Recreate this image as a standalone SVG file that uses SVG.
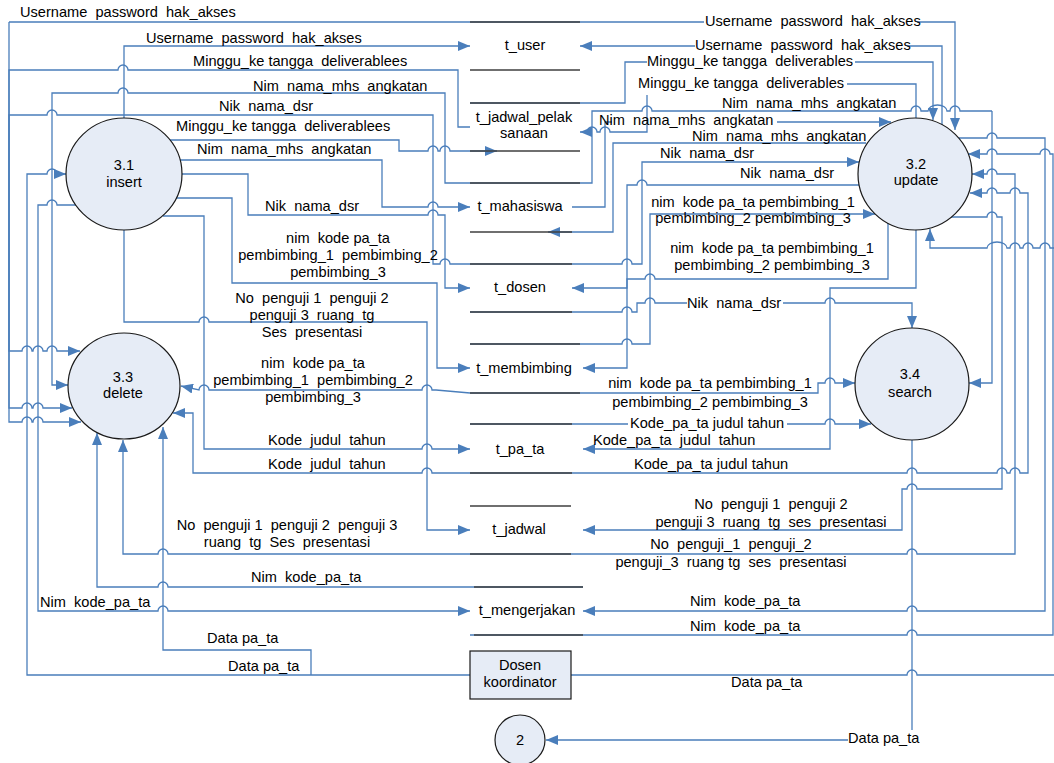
<svg xmlns="http://www.w3.org/2000/svg" width="1054" height="763" viewBox="0 0 1054 763">
<style>
.c{fill:none;stroke:#4A7EBB;stroke-width:1.3}
.s{stroke:#404040;stroke-width:1.3}
.p{fill:#E6ECF6;stroke:#1a1a1a;stroke-width:1.2}
text{font-family:"Liberation Sans",Arial,sans-serif;font-size:14.6px;fill:#000;white-space:pre}
.m{text-anchor:middle}
</style>
<defs>
<marker id="ar" viewBox="0 0 12 10" refX="12" refY="5" markerWidth="12" markerHeight="10" orient="auto" markerUnits="userSpaceOnUse"><path d="M0,0 L12,5 L0,10 z" fill="#4A7EBB"/></marker>
</defs>
<rect width="1054" height="763" fill="#fff"/>
<g id="connectors" class="c" marker-end="url(#ar)">
<path d="M9,22 H704 M917,22 H955 V130"/>
<path d="M9,22 V351 H22 a5,5 0 0 1 10,0 H33 a5,5 0 0 1 10,0 H47 a5,5 0 0 1 10,0 H80"/>
<path d="M470,127 H458 V70 H128 a5,5 0 0 0 -10,0 H9 V408 H22 a5,5 0 0 1 10,0 H33 a5,5 0 0 1 10,0 H72"/>
<path d="M470,264 H450 a5,5 0 0 0 -10,0 H433 V115 H57 a5,5 0 0 0 -10,0 H9 V422 H22 a5,5 0 0 1 10,0 H33 a5,5 0 0 1 10,0 H81"/>
<path d="M992,111 H960 a5,5 0 0 0 -10,0 H947 a9.5,6 0 0 0 -19,0 H921 a5,5 0 0 0 -10,0 H652 a5,5 0 0 0 -10,0 H592 V183 H445 V93 H128 a5,5 0 0 0 -10,0 H52 V385 H68"/>
<path d="M992,111 V383 H969"/>
<path d="M124,118 V46 H470"/>
<path d="M170,140 H399 V151 H428 a5,5 0 0 1 10,0 H440 a5,5 0 0 1 10,0 H497"/>
<path d="M179,160 H382 V207 H428 a5,5 0 0 1 10,0 H470"/>
<path d="M181,174 H248 V215 H428 a5,5 0 0 1 10,0 H445 V288 H470"/>
<path d="M176,198 H232 V283 H437 V368 H470"/>
<path d="M163,216 H204 V449 H422 a5,5 0 0 1 10,0 H470"/>
<path d="M124,230 V322 H199 a5,5 0 0 1 10,0 H427 V530 H470"/>
<path d="M76,205 H57 a5,5 0 0 0 -10,0 H38 V611 H158 a5,5 0 0 1 10,0 H470"/>
<path d="M470,675 H27 V174 H47 a5,5 0 0 1 10,0 H66"/>
<path d="M311,675 V650 H163 V427"/>
<path d="M470,393 L436,390 H432 a5,5 0 0 0 -10,0 H209 a5,5 0 0 0 -10,0 L181,386"/>
<path d="M470,473 H432 a5,5 0 0 0 -10,0 H193 V413 H173"/>
<path d="M470,554 H168 a5,5 0 0 0 -10,0 H123 V440"/>
<path d="M583,587 H168 a5,5 0 0 0 -10,0 H97 V433"/>
<path d="M942,127 V46 H907 M695,46 H580"/>
<path d="M470,103 H625 V62 H647 M855,62 H933 V120"/>
<path d="M916,120 V84 H847 M647,95 V132 H610 a5,5 0 0 0 -10,0 H597 a5,5 0 0 0 -10,0 H580"/>
<path d="M572,207 H605 V122 H612 M777,122 H891"/>
<path d="M866,143 H613 V232 H548"/>
<path d="M470,264 H622 a5,5 0 0 1 10,0 H642 V162 H859"/>
<path d="M859,185 H647 a5,5 0 0 0 -10,0 H627 V288 H572"/>
<path d="M470,344 H622 a5,5 0 0 1 10,0 H650 V214 H875"/>
<path d="M888,223 V279 H655 a5,5 0 0 0 -10,0 H627 V368 H583"/>
<path d="M916,230 V288 H830 V449 H583"/>
<path d="M470,312 H622 a5,5 0 0 1 10,0 H637 V303 H645 a5,5 0 0 1 10,0 H687 M783,303 H825 a5,5 0 0 1 10,0 H912 V328"/>
<path d="M470,393 H818 V383 H825 a5,5 0 0 1 10,0 H855"/>
<path d="M470,424 H628 M787,424 H825 a5,5 0 0 1 10,0 H871"/>
<path d="M470,473 H907 a5,5 0 0 1 10,0 H997 a5,5 0 0 1 10,0 H1010 a5,5 0 0 1 10,0 H1028 V193 H1020 a5,5 0 0 0 -10,0 H997 a5,5 0 0 0 -10,0 H970"/>
<path d="M951,217 H987 a5,5 0 0 1 10,0 H1002 V489 H917 a5,5 0 0 0 -10,0 H902 V530 H583"/>
<path d="M470,554 H907 a5,5 0 0 1 10,0 H1015 V174 H997 a5,5 0 0 0 -10,0 H972"/>
<path d="M959,138 H987 a5,5 0 0 1 10,0 H1045 V611 H917 a5,5 0 0 0 -10,0 H583"/>
<path d="M470,635 H907 a5,5 0 0 1 10,0 H1053 V154 H1050 a5,5 0 0 0 -10,0 H997 a5,5 0 0 0 -10,0 H968"/>
<path d="M1054,248 H1050 a5,5 0 0 0 -10,0 H1033 a5,5 0 0 0 -10,0 H1020 a5,5 0 0 0 -10,0 H1007 a10,6 0 0 0 -20,0 H930 V229"/>
<path d="M571,675 H907 a5,5 0 0 1 10,0 H1054" marker-end="none"/>
<path d="M912,440 V730 M848,740 H546"/>
</g>
<g id="flow-labels">
<text x="20" y="17">Username  password  hak_akses</text>
<text x="146" y="43">Username  password  hak_akses</text>
<text x="193" y="66">Minggu_ke tangga  deliverablees</text>
<text x="253" y="91">Nim  nama_mhs  angkatan</text>
<text x="219" y="111">Nik  nama_dsr</text>
<text x="176" y="131">Minggu_ke tangga  deliverablees</text>
<text x="197" y="154">Nim  nama_mhs  angkatan</text>
<text x="265" y="211">Nik  nama_dsr</text>
<text class="m" x="338" y="243">nim  kode pa_ta<tspan x="338" y="260">pembimbing_1  pembimbing_2</tspan><tspan x="338" y="277">pembimbing_3</tspan></text>
<text class="m" x="312" y="303">No  penguji 1  penguji 2<tspan x="312" y="320">penguji 3  ruang  tg</tspan><tspan x="312" y="337">Ses  presentasi</tspan></text>
<text class="m" x="313" y="368">nim  kode pa_ta<tspan x="313" y="385">pembimbing_1  pembimbing_2</tspan><tspan x="313" y="402">pembimbing_3</tspan></text>
<text x="268" y="445">Kode  judul  tahun</text>
<text x="268" y="469">Kode  judul  tahun</text>
<text class="m" x="287" y="530">No  penguji 1  penguji 2  penguji 3<tspan x="287" y="547">ruang  tg  Ses  presentasi</tspan></text>
<text x="251" y="582">Nim  kode_pa_ta</text>
<text x="40" y="607">Nim  kode_pa_ta</text>
<text x="207" y="643">Data pa_ta</text>
<text x="228" y="671">Data pa_ta</text>
<text x="705" y="26">Username  password  hak_akses</text>
<text x="695" y="50">Username  password  hak_akses</text>
<text x="647" y="66">Minggu_ke tangga  deliverables</text>
<text x="638" y="88">Minggu_ke tangga  deliverables</text>
<text x="722" y="108">Nim  nama_mhs  angkatan</text>
<text x="599" y="125">Nim  nama_mhs  angkatan</text>
<text x="692" y="141">Nim  nama_mhs  angkatan</text>
<text x="660" y="158">Nik  nama_dsr</text>
<text x="740" y="178">Nik  nama_dsr</text>
<text class="m" x="753" y="207">nim  kode pa_ta pembimbing_1<tspan x="753" y="223">pembimbing_2 pembimbing_3</tspan></text>
<text class="m" x="772" y="253">nim  kode pa_ta pembimbing_1<tspan x="772" y="270">pembimbing_2 pembimbing_3</tspan></text>
<text x="687" y="308">Nik  nama_dsr</text>
<text class="m" x="710" y="388">nim  kode pa_ta pembimbing_1<tspan x="710" y="407">pembimbing_2 pembimbing_3</tspan></text>
<text x="630" y="428">Kode_pa_ta judul tahun</text>
<text x="593" y="445">Kode_pa_ta  judul  tahun</text>
<text x="634" y="469">Kode_pa_ta judul tahun</text>
<text class="m" x="771" y="509">No  penguji 1  penguji 2<tspan x="771" y="527">penguji 3  ruang  tg  ses  presentasi</tspan></text>
<text class="m" x="731" y="549">No  penguji_1  penguji_2<tspan x="731" y="567">penguji_3  ruang tg  ses  presentasi</tspan></text>
<text x="690" y="606">Nim  kode_pa_ta</text>
<text x="690" y="631">Nim  kode_pa_ta</text>
<text x="731" y="687">Data pa_ta</text>
<text x="848" y="743">Data pa_ta</text>
</g>
<g id="t_user"><path class="s" d="M470,22 H580 M470,70 H580"/><text class="m" x="525" y="50">t_user</text></g>
<g id="t_jadwal_pelaksanaan"><path class="s" d="M470,103 H580 M470,151 H580"/><text class="m" x="524" y="122">t_jadwal_pelak<tspan x="524" y="138">sanaan</tspan></text></g>
<g id="t_mahasiswa"><path class="s" d="M470,183 H580 M470,232 H572"/><text class="m" x="520" y="211">t_mahasiswa</text></g>
<g id="t_dosen"><path class="s" d="M470,264 H572 M470,312 H572"/><text class="m" x="520" y="292">t_dosen</text></g>
<g id="t_membimbing"><path class="s" d="M470,344 H580 M470,393 H580"/><text class="m" x="524" y="373">t_membimbing</text></g>
<g id="t_pa_ta"><path class="s" d="M470,424 H572 M470,473 H572"/><text class="m" x="520" y="454">t_pa_ta</text></g>
<g id="t_jadwal"><path class="s" d="M470,506 H571 M470,554 H571"/><text class="m" x="519" y="534">t_jadwal</text></g>
<g id="t_mengerjakan"><path class="s" d="M474,587 H583 M474,635 H583"/><text class="m" x="527" y="615">t_mengerjakan</text></g>
<g id="p31"><ellipse class="p" cx="124" cy="174" rx="58" ry="56"/><text class="m" x="124" y="170">3.1</text><text class="m" x="124" y="187">insert</text></g>
<g id="p32"><ellipse class="p" cx="915" cy="174" rx="57" ry="56"/><text class="m" x="916" y="169">3.2</text><text class="m" x="916" y="185">update</text></g>
<g id="p33"><ellipse class="p" cx="124" cy="386" rx="56" ry="53"/><text class="m" x="123" y="382">3.3</text><text class="m" x="123" y="398">delete</text></g>
<g id="p34"><ellipse class="p" cx="912" cy="384" rx="57" ry="56"/><text class="m" x="910" y="379">3.4</text><text class="m" x="910" y="397">search</text></g>
<g id="p2"><circle class="p" cx="520" cy="740" r="25"/><text class="m" x="520" y="745">2</text></g>
<g id="dosen_koordinator"><rect x="470" y="651" width="101" height="48" fill="#E6ECF6" stroke="#1a1a1a" stroke-width="1.2"/><text class="m" x="520" y="670">Dosen</text><text class="m" x="520" y="687">koordinator</text></g>
</svg>
